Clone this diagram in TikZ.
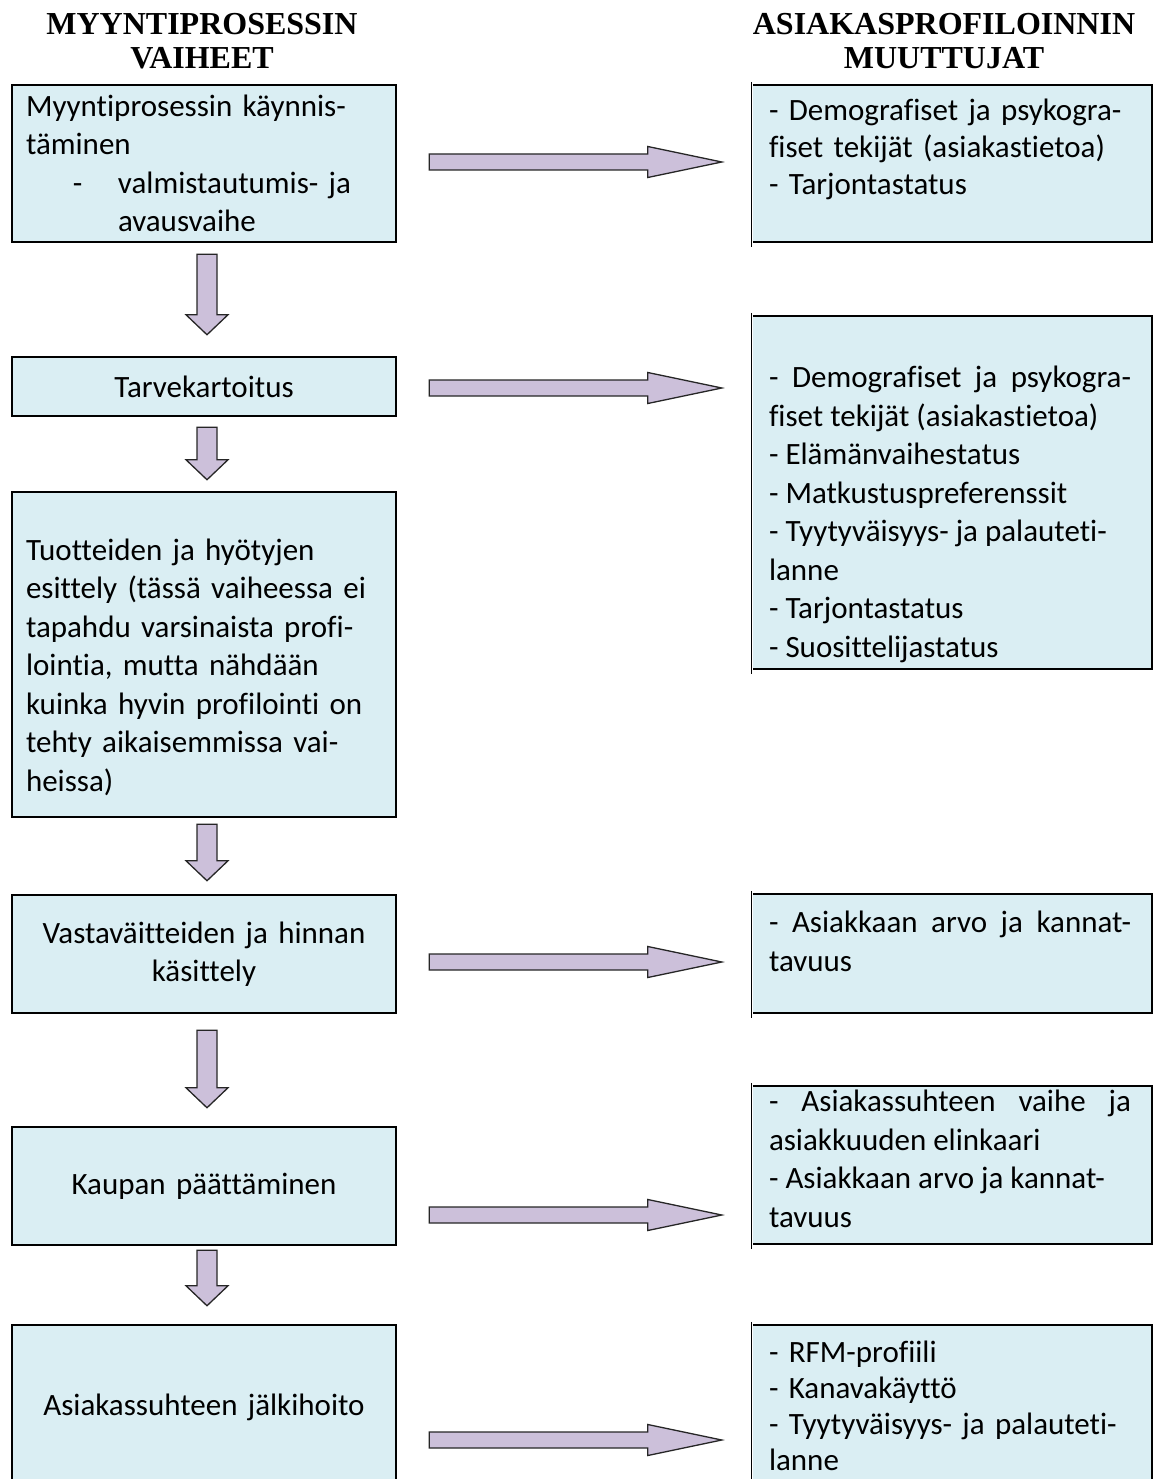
\documentclass[tikz,border=0pt]{standalone}
\usepackage{fontspec}
\setmainfont{Carlito}[Ligatures=NoCommon]
\newfontfamily\titlefont{Liberation Serif}
\usepackage{tikz}
\usetikzlibrary{calc}
\usepackage{xcolor}
\definecolor{boxblue}{HTML}{DAEEF3}
\definecolor{arrlilac}{HTML}{CCC0DA}

% block arrow down: upper box, lower box, gap below upper, gap above lower
\newcommand{\downarr}[4]{%
  \draw[blockarr] ($(#1.south)+(-7,#3)$) -- ($(#2.north)+(-7,-#4-20)$)
    -- ($(#2.north)+(-18,-#4-20)$) -- ($(#2.north)+(3,-#4)$)
    -- ($(#2.north)+(24,-#4-20)$) -- ($(#2.north)+(13,-#4-20)$)
    -- ($(#1.south)+(13,#3)$) -- cycle;}
% block arrow right: left box, right box, shift from left box centre
\newcommand{\rightarr}[3]{%
  \draw[blockarr] ($(#1.east)+(32,#3-8)$) -- ($(#1.east -| #2.west)+(-105,#3-8)$)
    -- ($(#1.east -| #2.west)+(-105,#3-15.5)$) -- ($(#1.east -| #2.west)+(-31,#3)$)
    -- ($(#1.east -| #2.west)+(-105,#3+15.5)$) -- ($(#1.east -| #2.west)+(-105,#3+8)$)
    -- ($(#1.east)+(32,#3+8)$) -- cycle;}
% frame of a profile box: heavy on three sides, thin on the left
\newcommand{\pframe}[1]{%
  \draw[frame] (#1.north west) -- (#1.north east) -- (#1.south east) -- (#1.south west);
  \draw[thinframe] ($(#1.north west)+(-1,-3)$) -- ($(#1.south west)+(-1,5)$);}

\begin{document}
\begin{tikzpicture}[x=1pt, y=-1pt,
  sbox/.style ={draw, line width=2.5, fill=boxblue, text width=356pt,
                inner xsep=14pt, inner ysep=0pt, align=center,
                font=\fontsize{31}{38.5}\selectfont},
  pbox/.style ={fill=boxblue, minimum width=399pt, inner sep=0pt},
  ptext/.style={text width=362pt, inner sep=0pt, anchor=north west,
                align=left, font=\fontsize{31}{38.5}\selectfont},
  frame/.style={line width=2.5, line join=miter},
  thinframe/.style={line width=1.2},
  blockarr/.style={fill=arrlilac, draw=black!85, line width=1.3, line join=miter},
  title/.style={anchor=north, align=center, inner sep=0pt,
                font=\titlefont\bfseries\fontsize{32}{34}\selectfont}
]
  \useasboundingbox (0,0) rectangle (1154,1479);
  \clip (0,0) rectangle (1154,1479);

  %% ── Column headings ─────────────────────────────────────────────────────
  \node[title] (hleft)  at (202,13) {MYYNTIPROSESSIN\\VAIHEET};
  \node[title] (hright) at (944,13) {ASIAKASPROFILOINNIN\\MUUTTUJAT};

  %% ── Left column: sales process phases ───────────────────────────────────
  \node[sbox, minimum height=157, align=left] (s1) at (204,163.5)
    {Myyntiprosessin käynnis-\\täminen\\
     \makebox[92pt][l]{\hspace*{47pt}-}valmistautumis- ja\\
     \hspace*{92pt}avausvaihe};
  \node[sbox, minimum height=59]  (s2) at (204,386.5) {Tarvekartoitus};
  \node[sbox, minimum height=325, align=left] (s3) at (204,654.5)
    {\rule{0pt}{47pt}Tuotteiden ja hyötyjen\\esittely (tässä vaiheessa ei\\tapahdu varsinaista profi-\\
     lointia, mutta nähdään\\kuinka hyvin profilointi on\\tehty aikaisemmissa vai-\\heissa)};
  \node[sbox, minimum height=118] (s4) at (204,954) {Vastaväitteiden ja hinnan\\käsittely};
  \node[sbox, minimum height=118] (s5) at (204,1186) {Kaupan päättäminen};
  \node[sbox, minimum height=164] (s6) at (204,1407) {Asiakassuhteen jälkihoito};

  %% ── Right column: profiling variables ───────────────────────────────────
  \node[pbox, minimum height=157] (p1) at (952.5,163.5) {};
  \node[pbox, minimum height=353] (p2) at (952.5,492.5) {};
  \node[pbox, minimum height=119] (p3) at (952.5,953.5) {};
  \node[pbox, minimum height=158] (p4) at (952.5,1165) {};
  \node[pbox, minimum height=170] (p5) at (952.5,1410) {};
  \pframe{p1} \pframe{p2} \pframe{p3} \pframe{p4} \pframe{p5}

  \node[ptext, font=\fontsize{31}{37}\selectfont] (t1) at ($(p1.north west)+(16,14)$)
    {- Demografiset ja psykogra-\\fiset tekijät (asiakastietoa)\\- Tarjontastatus};
  \node[ptext, align=justify] (t2) at ($(p2.north west)+(16,50)$)
    {- Demografiset ja psykogra-\linebreak fiset tekijät (asiakastietoa)\\
     - Elämänvaihestatus\\- Matkustuspreferenssit\\- Tyytyväisyys- ja palauteti-\\
     lanne\\- Tarjontastatus\\- Suosittelijastatus};
  \node[ptext, align=justify] (t3) at ($(p3.north west)+(16,17)$)
    {- Asiakkaan arvo ja kannat-\linebreak tavuus};
  \node[ptext, align=justify] (t4) at ($(p4.north west)+(16,4)$)
    {- Asiakassuhteen vaihe ja\linebreak asiakkuuden elinkaari\\
     - Asiakkaan arvo ja kannat-\\tavuus};
  \node[ptext, font=\fontsize{31}{36}\selectfont] (t5) at ($(p5.north west)+(16,16)$)
    {- RFM-profiili\\- Kanavakäyttö\\- Tyytyväisyys- ja palauteti-\\lanne};

  %% ── Phase to phase (down) ───────────────────────────────────────────────
  \downarr{s1}{s2}{11}{21}
  \downarr{s2}{s3}{10}{11}
  \downarr{s3}{s4}{6}{13}
  \downarr{s4}{s5}{16}{18}
  \downarr{s5}{s6}{4}{18}

  %% ── Phase to variables (right) ──────────────────────────────────────────
  \rightarr{s1}{p1}{-1.5}
  \rightarr{s2}{p2}{1.5}
  \rightarr{s4}{p3}{8}
  \rightarr{s5}{p4}{29}
  \rightarr{s6}{p5}{33}

\end{tikzpicture}
\end{document}
